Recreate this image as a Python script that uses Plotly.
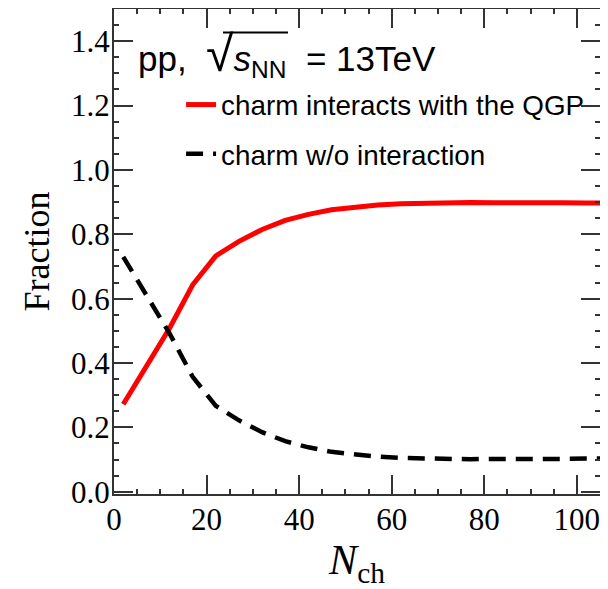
import plotly.graph_objects as go

# Data
nch = [2, 7, 12, 17, 22, 27, 32, 37, 42, 47, 52, 57, 62, 67, 72, 77, 82, 87, 92, 97, 102, 107]
frac_qgp = [0.272, 0.392, 0.508, 0.643, 0.733, 0.778, 0.815, 0.843, 0.862, 0.876, 0.885,
            0.891, 0.895, 0.897, 0.898, 0.899, 0.898, 0.899, 0.898, 0.898, 0.897, 0.897]
frac_noint = [0.730, 0.608, 0.492, 0.357, 0.267, 0.222, 0.185, 0.157, 0.138, 0.124, 0.115,
              0.109, 0.105, 0.103, 0.102, 0.101, 0.102, 0.101, 0.102, 0.102, 0.103, 0.103]

x_ticks = [0, 20, 40, 60, 80, 100]
y_ticks = [0.0, 0.2, 0.4, 0.6, 0.8, 1.0, 1.2, 1.4]
y_ticklabels = ["0.0", "0.2", "0.4", "0.6", "0.8", "1.0", "1.2", "1.4"]

SERIF = "Liberation Serif, Times New Roman, serif"
SANS = "Liberation Sans, Arial, sans-serif"
FRAME = "#333333"

fig = go.Figure()
fig.add_trace(go.Scatter(
    x=nch, y=frac_qgp, mode="lines", name="charm interacts with the QGP",
    line=dict(color="#ff0000", width=5), legendgroup="a"))
fig.add_trace(go.Scatter(
    x=nch, y=frac_noint, mode="lines", name="charm w/o interaction",
    line=dict(color="#000000", width=4.5, dash="17px,10px"), legendgroup="b"))

axis_common = dict(
    showline=True, linecolor=FRAME, linewidth=2, mirror="allticks",
    ticks="inside", ticklen=19, tickwidth=1.8, tickcolor=FRAME,
    showgrid=False, zeroline=False, automargin=False,
    tickfont=dict(family=SERIF, size=31, color="#000000"),
)

fig.update_xaxes(
    **axis_common,
    range=[0, 105], tickvals=x_ticks, ticktext=[str(v) for v in x_ticks],
    ticklabelstandoff=-3,
    minor=dict(dtick=5, tick0=0, ticks="inside", ticklen=5, tickwidth=1.5, tickcolor=FRAME, showgrid=False),
    title=dict(text="<i>N</i><sub>ch</sub>", font=dict(family=SERIF, size=42, color="#000000"), standoff=6),
)
fig.update_yaxes(
    **axis_common,
    range=[-0.007, 1.5], tickvals=y_ticks, ticktext=y_ticklabels,
    ticklabelstandoff=-4,
    minor=dict(dtick=0.05, tick0=0, ticks="inside", ticklen=5, tickwidth=1.5, tickcolor=FRAME, showgrid=False),
    title=dict(text="Fraction", font=dict(family=SERIF, size=36, color="#000000"), standoff=10),
)

fig.add_annotation(
    xref="paper", yref="paper", x=0.0448, y=0.906, xanchor="left", yanchor="middle",
    text='pp,  <span style="font-size:50px">√</span><i>s</i><sub>NN</sub>  = 13TeV',
    showarrow=False, font=dict(family=SANS, size=35, color="#000000"),
)
fig.add_shape(type="line", xref="paper", yref="paper",
              x0=0.2243, x1=0.358, y0=0.9515, y1=0.9515,
              line=dict(color="#000000", width=2))

# The page adds an 8 px body margin, so the figure is 8 px smaller on each side
fig.update_layout(
    width=600, height=581,
    margin=dict(l=106, r=8, t=1, b=95),
    paper_bgcolor="white", plot_bgcolor="white",
    showlegend=True,
    legend=dict(
        x=0.138, y=0.8536, xanchor="left", yanchor="top",
        bgcolor="rgba(0,0,0,0)", borderwidth=0,
        font=dict(family=SANS, size=27.8, color="#000000"),
        tracegroupgap=10, itemwidth=30,
    ),
)

fig.write_html("out.html")
